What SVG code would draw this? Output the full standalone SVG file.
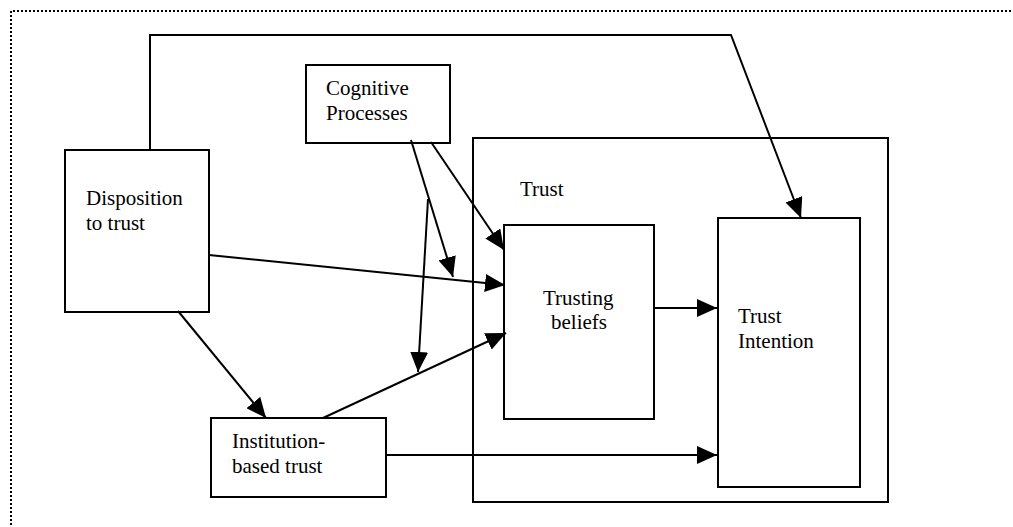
<svg xmlns="http://www.w3.org/2000/svg" width="1013" height="527" viewBox="0 0 1013 527">
  <style>
    .box { fill: #fff; stroke: #000; stroke-width: 2; }
    .frame { fill: none; stroke: #000; stroke-width: 2; }
    .arrow { fill: none; stroke: #000; stroke-width: 2; marker-end: url(#head); }
    .border { fill: none; stroke: #000; stroke-width: 2; stroke-dasharray: 2 2; }
  </style>
  <defs>
    <marker id="head" markerUnits="userSpaceOnUse" markerWidth="20" markerHeight="18" refX="20" refY="9" orient="auto">
      <path d="M0,0 L20,9 L0,18 z" fill="#000"/>
    </marker>
  </defs>

  <rect width="1013" height="527" fill="#fff"/>

  <!-- dotted page border -->
  <path class="border" d="M11,1013 V11 H1013"/>

  <g font-family="Liberation Serif, serif" font-size="21" fill="#000">
    <!-- Trust container -->
    <g id="trust">
      <rect class="frame" x="473" y="138" width="415" height="364"/>
      <text x="520" y="196">Trust</text>
    </g>

    <g id="disposition">
      <rect class="box" x="65" y="150" width="144" height="162"/>
      <text x="86" y="205">Disposition</text>
      <text x="86" y="230">to trust</text>
    </g>

    <g id="cognitive">
      <rect class="box" x="306" y="65" width="144" height="78"/>
      <text x="326" y="95">Cognitive</text>
      <text x="326" y="120">Processes</text>
    </g>

    <g id="trusting-beliefs">
      <rect class="box" x="504" y="225" width="150" height="194"/>
      <text x="543" y="305">Trusting</text>
      <text x="551" y="329">beliefs</text>
    </g>

    <g id="trust-intention">
      <rect class="box" x="718" y="218" width="142" height="269"/>
      <text x="738" y="323">Trust</text>
      <text x="738" y="348">Intention</text>
    </g>

    <g id="institution">
      <rect class="box" x="211" y="418" width="175" height="79"/>
      <text x="232" y="448">Institution-</text>
      <text x="232" y="473">based trust</text>
    </g>
  </g>

  <!-- connectors -->
  <g id="connectors">
    <path class="arrow" d="M150,150 V35 H731 L801,218"/>
    <path class="arrow" d="M431,142 L504,250"/>
    <path class="arrow" d="M411,140 L453,277"/>
    <path class="arrow" d="M428,199 L418,372"/>
    <path class="arrow" d="M209,255 L505,285"/>
    <path class="arrow" d="M323,418 L506,333"/>
    <path class="arrow" d="M178,311 L266,418"/>
    <path class="arrow" d="M654,308 L717,308"/>
    <path class="arrow" d="M386,455 L717,455"/>
  </g>
</svg>
